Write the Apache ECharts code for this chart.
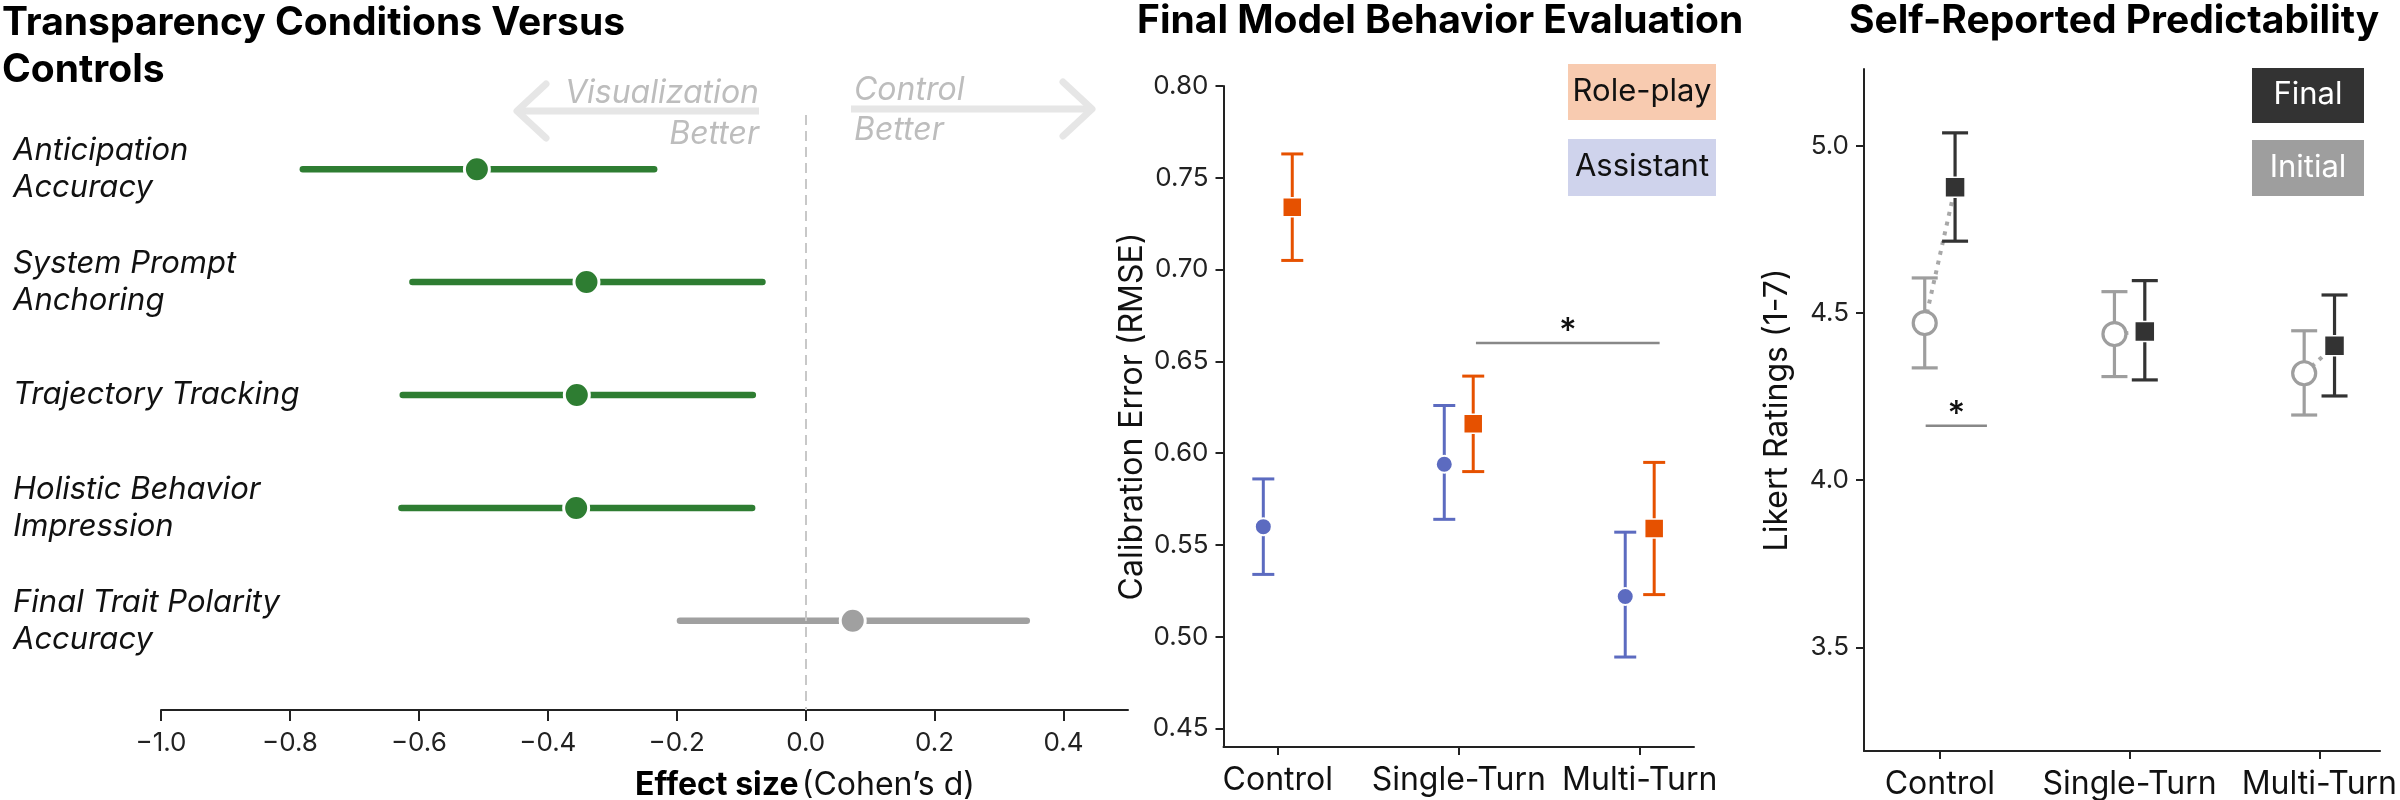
<!DOCTYPE html>
<html>
<head>
<meta charset="utf-8">
<script src="https://cdn.jsdelivr.net/npm/echarts@6/dist/echarts.min.js"></script>
<style>
  html, body { margin: 0; padding: 0; background: #fff; }
  #chart { width: 2400px; height: 800px; }
</style>
</head>
<body>
<div id="chart"></div>
<script>
// 左图: 效应量 (Cohen's d)
const outcomes = ['Anticipation\nAccuracy', 'System Prompt\nAnchoring', 'Trajectory Tracking', 'Holistic Behavior\nImpression', 'Final Trait Polarity\nAccuracy'];
const effectMean = [-0.51, -0.34, -0.355, -0.356, 0.073];
const effectLow = [-0.78, -0.61, -0.625, -0.627, -0.195];
const effectHigh = [-0.235, -0.067, -0.082, -0.083, 0.343];
const effectSignificant = [true, true, true, true, false];
const effectTicks = [-1.0, -0.8, -0.6, -0.4, -0.2, 0.0, 0.2, 0.4];

// 中图: 校准误差
const conditions = ['Control', 'Single-Turn', 'Multi-Turn'];
const rolePlayMean = [0.734, 0.616, 0.559];
const rolePlayLow = [0.705, 0.590, 0.523];
const rolePlayHigh = [0.763, 0.642, 0.595];
const assistantMean = [0.560, 0.594, 0.522];
const assistantLow = [0.534, 0.564, 0.489];
const assistantHigh = [0.586, 0.626, 0.557];
const rmseTicks = [0.45, 0.50, 0.55, 0.60, 0.65, 0.70, 0.75, 0.80];

// 右图: 李克特评分
const finalMean = [4.876, 4.445, 4.402];
const finalLow = [4.715, 4.300, 4.252];
const finalHigh = [5.039, 4.597, 4.554];
const initialMean = [4.470, 4.437, 4.320];
const initialLow = [4.336, 4.310, 4.195];
const initialHigh = [4.605, 4.564, 4.447];
const likertTicks = [3.5, 4.0, 4.5, 5.0];

const FONT = 'Inter, "Noto Sans", sans-serif';
const GREEN = '#2e7d32', GREY = '#a0a0a0', ORANGE = '#e65100', BLUE = '#5c6bc0', DARK = '#333333', LIGHT = '#9e9e9e';
const OFFSET = 0.08;
const catIdx = conditions.map((c, i) => i);

function vErrorBar(color, capW, lw) {
    return function (params, api) {
        const x = api.value(0);
        const lo = api.coord([x, api.value(1)]);
        const hi = api.coord([x, api.value(2)]);
        const h = capW / 2;
        const style = { stroke: color, lineWidth: lw };
        return {
            type: 'group', children: [
                { type: 'line', shape: { x1: lo[0], y1: lo[1], x2: hi[0], y2: hi[1] }, style },
                { type: 'line', shape: { x1: lo[0] - h, y1: lo[1], x2: lo[0] + h, y2: lo[1] }, style },
                { type: 'line', shape: { x1: hi[0] - h, y1: hi[1], x2: hi[0] + h, y2: hi[1] }, style }
            ]
        };
    };
}

function hBar(params, api) {
    const y = api.value(0);
    const lo = api.coord([api.value(1), y]);
    const hi = api.coord([api.value(2), y]);
    return {
        type: 'line',
        shape: { x1: lo[0], y1: lo[1], x2: hi[0], y2: hi[1] },
        style: { stroke: api.value(3) ? GREEN : GREY, lineWidth: 6.5, lineCap: 'round' }
    };
}

// 显著性标注 (数据坐标)
function sigBracket(params, api) {
    const a = api.coord([api.value(0), api.value(2)]);
    const b = api.coord([api.value(1), api.value(2)]);
    return {
        type: 'group', children: [
            { type: 'line', shape: { x1: a[0], y1: a[1], x2: b[0], y2: b[1] }, style: { stroke: '#888', lineWidth: 2.5 } },
            { type: 'text', x: (a[0] + b[0]) / 2, y: a[1] + 6, style: { text: '*', font: '500 34px ' + FONT, fill: '#111', align: 'center', verticalAlign: 'bottom' } }
        ]
    };
}

const axisLineStyle = { color: '#222', width: 2 };
const tickLabel = { fontSize: 26, color: '#222', fontFamily: FONT };

function catXAxis(grid, min, max) {
    return {
        gridIndex: grid, type: 'value', min: min, max: max,
        axisLine: { show: true, onZero: false, lineStyle: axisLineStyle },
        axisTick: { show: true, length: 8, customValues: catIdx, lineStyle: axisLineStyle },
        axisLabel: { customValues: catIdx, formatter: v => conditions[Math.round(v)], fontSize: 32, color: '#111', fontFamily: FONT, margin: 17 },
        splitLine: { show: false }
    };
}

function numYAxis(grid, min, max, ticks, digits, name, gap) {
    return {
        gridIndex: grid, type: 'value', min: min, max: max,
        axisLine: { show: true, onZero: false, lineStyle: axisLineStyle },
        axisTick: { show: true, length: 8, customValues: ticks, lineStyle: axisLineStyle },
        axisLabel: Object.assign({}, tickLabel, { customValues: ticks, formatter: v => v.toFixed(digits), margin: 15 }),
        splitLine: { show: false },
        name: name, nameLocation: 'middle', nameGap: gap,
        nameTextStyle: { fontSize: 32, color: '#111', fontFamily: FONT }
    };
}

const arrowText = { font: 'italic 32px ' + FONT, fill: '#bdbdbd', verticalAlign: 'middle' };

const option = {
    backgroundColor: '#fff',
    animation: false,
    grid: [
        { left: 161, top: 115, width: 967, height: 595 },
        { left: 1223.5, top: 86, width: 470.5, height: 661 },
        { left: 1864, top: 69, width: 536, height: 682.7 }
    ],
    xAxis: [
        {
            gridIndex: 0, type: 'value', min: -1.0, max: 0.5,
            axisLine: { show: true, onZero: false, lineStyle: axisLineStyle },
            axisTick: { show: true, length: 11, customValues: effectTicks, lineStyle: axisLineStyle },
            axisLabel: Object.assign({}, tickLabel, {
                customValues: effectTicks, margin: 20,
                formatter: v => (v < -1e-9 ? '\u2212' : '') + Math.abs(v).toFixed(1)
            }),
            splitLine: { show: false }
        },
        catXAxis(1, -0.3, 2.3),
        catXAxis(2, -0.4, 2.32)
    ],
    yAxis: [
        {
            gridIndex: 0, type: 'value', inverse: true, min: -0.48, max: 4.79,
            axisLine: { show: false, onZero: false }, axisTick: { show: false }, splitLine: { show: false },
            axisLabel: {
                customValues: [0, 1, 2, 3, 4], formatter: v => outcomes[Math.round(v)],
                align: 'left', margin: 148, fontSize: 31, lineHeight: 37, fontStyle: 'italic',
                color: '#111', fontFamily: FONT
            }
        },
        numYAxis(1, 0.44, 0.80, rmseTicks, 2, 'Calibration Error (RMSE)', 70),
        numYAxis(2, 3.19, 5.23, likertTicks, 1, 'Likert Ratings (1-7)', 71)
    ],
    series: [
        // 左图
        {
            type: 'custom', xAxisIndex: 0, yAxisIndex: 0, renderItem: hBar, clip: false,
            encode: { x: [1, 2], y: 0 },
            data: outcomes.map((o, i) => [i, effectLow[i], effectHigh[i], effectSignificant[i] ? 1 : 0])
        },
        {
            type: 'scatter', xAxisIndex: 0, yAxisIndex: 0, symbol: 'circle', symbolSize: 25,
            data: outcomes.map((o, i) => ({
                value: [effectMean[i], i],
                itemStyle: { color: effectSignificant[i] ? GREEN : GREY, borderColor: '#fff', borderWidth: 3, opacity: 1 }
            })),
            markLine: {
                silent: true, symbol: 'none', label: { show: false },
                lineStyle: { color: '#c8c8c8', width: 2, type: [10, 6] },
                data: [{ xAxis: 0 }]
            }
        },
        // 中图
        {
            type: 'custom', xAxisIndex: 1, yAxisIndex: 1, renderItem: vErrorBar(BLUE, 22, 3), clip: false,
            data: catIdx.map(i => [i - OFFSET, assistantLow[i], assistantHigh[i]])
        },
        {
            type: 'custom', xAxisIndex: 1, yAxisIndex: 1, renderItem: vErrorBar(ORANGE, 22, 3), clip: false,
            data: catIdx.map(i => [i + OFFSET, rolePlayLow[i], rolePlayHigh[i]])
        },
        {
            type: 'scatter', xAxisIndex: 1, yAxisIndex: 1, symbol: 'circle', symbolSize: 17,
            itemStyle: { color: BLUE, borderColor: '#fff', borderWidth: 2, opacity: 1 },
            data: catIdx.map(i => [i - OFFSET, assistantMean[i]])
        },
        {
            type: 'scatter', xAxisIndex: 1, yAxisIndex: 1, symbol: 'rect', symbolSize: 19,
            itemStyle: { color: ORANGE, borderColor: '#fff', borderWidth: 1.5, opacity: 1 },
            data: catIdx.map(i => [i + OFFSET, rolePlayMean[i]])
        },
        {
            type: 'custom', xAxisIndex: 1, yAxisIndex: 1, renderItem: sigBracket, clip: false,
            data: [[1.095, 2.11, 0.66]]
        },
        // 右图
        {
            type: 'custom', xAxisIndex: 2, yAxisIndex: 2, clip: false,
            renderItem: function (params, api) {
                const a = api.coord([api.value(0) - OFFSET, api.value(1)]);
                const b = api.coord([api.value(0) + OFFSET, api.value(2)]);
                return {
                    type: 'line', shape: { x1: a[0], y1: a[1], x2: b[0], y2: b[1] },
                    style: { stroke: '#a8a8a8', lineWidth: 4, lineDash: [4, 6] }
                };
            },
            data: catIdx.map(i => [i, initialMean[i], finalMean[i]])
        },
        {
            type: 'custom', xAxisIndex: 2, yAxisIndex: 2, renderItem: vErrorBar(LIGHT, 26, 3.2), clip: false,
            data: catIdx.map(i => [i - OFFSET, initialLow[i], initialHigh[i]])
        },
        {
            type: 'custom', xAxisIndex: 2, yAxisIndex: 2, renderItem: vErrorBar(DARK, 26, 3.2), clip: false,
            data: catIdx.map(i => [i + OFFSET, finalLow[i], finalHigh[i]])
        },
        {
            type: 'scatter', xAxisIndex: 2, yAxisIndex: 2, symbol: 'circle', symbolSize: 23,
            itemStyle: { color: '#fff', borderColor: LIGHT, borderWidth: 3.2, opacity: 1 },
            data: catIdx.map(i => [i - OFFSET, initialMean[i]])
        },
        {
            type: 'scatter', xAxisIndex: 2, yAxisIndex: 2, symbol: 'rect', symbolSize: 20,
            itemStyle: { color: DARK, borderColor: '#fff', borderWidth: 1.5, opacity: 1 },
            data: catIdx.map(i => [i + OFFSET, finalMean[i]])
        },
        {
            type: 'custom', xAxisIndex: 2, yAxisIndex: 2, renderItem: sigBracket, clip: false,
            data: [[-0.075, 0.248, 4.163]]
        }
    ],
    graphic: [
        // 标题
        { type: 'text', left: 2, top: 0, style: { text: 'Transparency Conditions Versus\nControls', font: 'bold 39px ' + FONT, lineHeight: 47, fill: '#000' } },
        { type: 'text', left: 1137, top: 2, style: { text: 'Final Model Behavior Evaluation', font: 'bold 39px ' + FONT, fill: '#000' } },
        { type: 'text', left: 1849, top: 2, style: { text: 'Self-Reported Predictability', font: 'bold 39px ' + FONT, fill: '#000' } },
        // 方向箭头
        { type: 'polyline', shape: { points: [[759, 111], [517, 111]] }, style: { stroke: '#e6e6e6', lineWidth: 7 } },
        { type: 'polyline', shape: { points: [[546, 84], [517, 111], [546, 138]] }, style: { stroke: '#e6e6e6', lineWidth: 7, lineCap: 'round', lineJoin: 'round', fill: null } },
        { type: 'polyline', shape: { points: [[851, 109], [1092, 109]] }, style: { stroke: '#e6e6e6', lineWidth: 7 } },
        { type: 'polyline', shape: { points: [[1063, 82], [1092, 109], [1063, 136]] }, style: { stroke: '#e6e6e6', lineWidth: 7, lineCap: 'round', lineJoin: 'round', fill: null } },
        { type: 'text', x: 759, y: 93, style: Object.assign({ text: 'Visualization', align: 'right' }, arrowText) },
        { type: 'text', x: 759, y: 134, style: Object.assign({ text: 'Better', align: 'right' }, arrowText) },
        { type: 'text', x: 854, y: 90, style: Object.assign({ text: 'Control', align: 'left' }, arrowText) },
        { type: 'text', x: 854, y: 130, style: Object.assign({ text: 'Better', align: 'left' }, arrowText) },
        // x 轴标题
        {
            type: 'text', x: 805, y: 785,
            style: {
                text: '{b|Effect size} {n|(Cohen\u2019s d)}', align: 'center', verticalAlign: 'middle',
                rich: { b: { font: 'bold 32px ' + FONT, fill: '#000' }, n: { font: '32px ' + FONT, fill: '#111' } }
            }
        },
        // 图例框
        { type: 'rect', shape: { x: 1568, y: 64, width: 148, height: 56 }, style: { fill: '#f8cbb0' } },
        { type: 'text', x: 1642, y: 92, style: { text: 'Role-play', font: '31px ' + FONT, fill: '#111', align: 'center', verticalAlign: 'middle' } },
        { type: 'rect', shape: { x: 1568, y: 139, width: 148, height: 57 }, style: { fill: '#cfd3ec' } },
        { type: 'text', x: 1642, y: 167, style: { text: 'Assistant', font: '31px ' + FONT, fill: '#111', align: 'center', verticalAlign: 'middle' } },
        { type: 'rect', shape: { x: 2252, y: 68, width: 112, height: 55 }, style: { fill: '#333333' } },
        { type: 'text', x: 2308, y: 95, style: { text: 'Final', font: '31px ' + FONT, fill: '#fff', align: 'center', verticalAlign: 'middle' } },
        { type: 'rect', shape: { x: 2252, y: 140, width: 112, height: 56 }, style: { fill: '#9e9e9e' } },
        { type: 'text', x: 2308, y: 168, style: { text: 'Initial', font: '31px ' + FONT, fill: '#fff', align: 'center', verticalAlign: 'middle' } }
    ]
};

const chart = echarts.init(document.getElementById('chart'));
chart.setOption(option);
</script>
</body>
</html>
